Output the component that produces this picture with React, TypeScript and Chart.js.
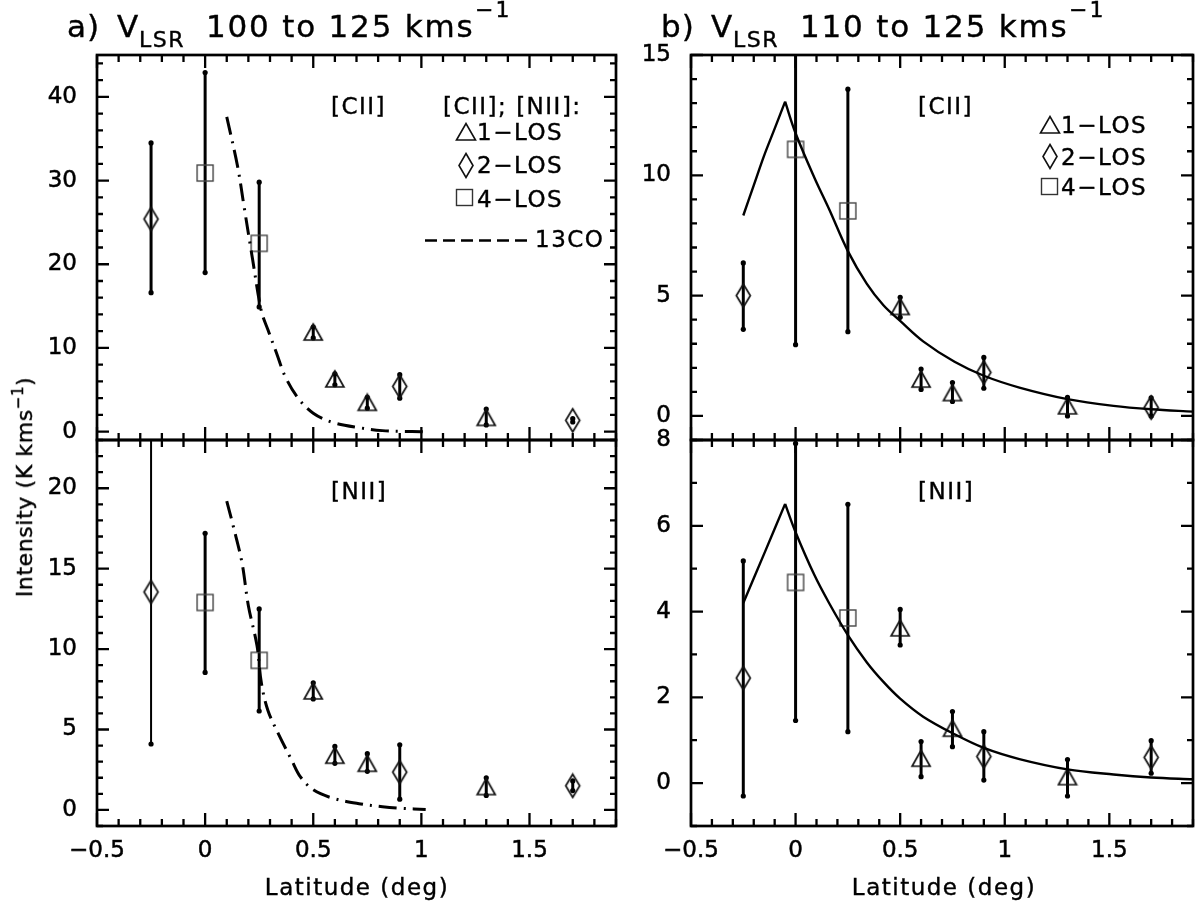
import React, { useEffect, useRef } from "react";
import { Chart, registerables } from "chart.js";

Chart.register(...registerables);

const FONT = "'DejaVu Sans', 'Noto Sans', sans-serif";
Chart.defaults.font.family = FONT;

// ---------------- shared latitude data ----------------
const latTriangle = [0.5, 0.6, 0.75, 1.3]; // 1-LOS
const latDiamond = [-0.25, 0.9, 1.7]; // 2-LOS
const latSquare = [0, 0.25]; // 4-LOS

const xMin = -0.5;
const xMax = 1.9;
const xTicks = [-0.5, 0, 0.5, 1, 1.5];
const xTickLabels = ["\u22120.5", "0", "0.5", "1", "1.5"];

// ---------------- a) [CII] ----------------
const aCiiTri = [11.9, 6.3, 3.5, 1.7];
const aCiiTriLo = [11.2, 5.6, 2.8, 0.8];
const aCiiTriHi = [12.5, 6.9, 4.1, 2.7];
const aCiiDia = [25.4, 5.4, 1.35];
const aCiiDiaLo = [16.6, 4.0, 1.15];
const aCiiDiaHi = [34.5, 6.8, 1.55];
const aCiiSq = [30.9, 22.5];
const aCiiSqLo = [19.0, 14.9];
const aCiiSqHi = [42.9, 29.8];
const aCiiCoLat = [0.1, 0.15, 0.18, 0.22, 0.26, 0.29, 0.33, 0.37, 0.43, 0.5, 0.59, 0.72, 0.82, 0.91, 1.0, 1.02];
const aCiiCo = [37.6, 31.7, 26.9, 20.5, 14.4, 12.2, 9.4, 6.6, 4.0, 2.2, 1.1, 0.44, 0.12, 0.02, 0.0, -0.05];
const aCiiYTicks = [0, 10, 20, 30, 40];
const aCiiYLabels = ["0", "10", "20", "30", "40"];

// ---------------- a) [NII] ----------------
const aNiiTri = [7.4, 3.4, 2.9, 1.45];
const aNiiTriLo = [6.9, 2.9, 2.4, 0.9];
const aNiiTriHi = [7.9, 3.95, 3.5, 2.0];
const aNiiDia = [13.55, 2.35, 1.5];
const aNiiDiaLo = [4.1, 0.67, 1.2];
const aNiiDiaHi = [23.1, 4.05, 1.8];
const aNiiSq = [12.9, 9.3];
const aNiiSqLo = [8.55, 6.15];
const aNiiSqHi = [17.2, 12.5];
const aNiiCoLat = [0.1, 0.13, 0.17, 0.2, 0.24, 0.26, 0.29, 0.34, 0.4, 0.44, 0.5, 0.59, 0.72, 0.82, 0.91, 1.02];
const aNiiCo = [19.2, 17.65, 15.4, 12.7, 10.2, 7.9, 6.2, 4.7, 3.1, 2.07, 1.25, 0.73, 0.37, 0.2, 0.1, 0.03];
const aNiiYTicks = [0, 5, 10, 15, 20];
const aNiiYLabels = ["0", "5", "10", "15", "20"];

// ---------------- b) [CII] ----------------
const bCiiTri = [4.55, 1.53, 0.97, 0.42];
const bCiiTriLo = [4.1, 1.1, 0.6, 0.0];
const bCiiTriHi = [4.93, 1.95, 1.39, 0.77];
const bCiiDia = [5.0, 1.81, 0.35];
const bCiiDiaLo = [3.6, 1.15, 0.0];
const bCiiDiaHi = [6.36, 2.43, 0.75];
const bCiiSq = [11.08, 8.52];
const bCiiSqLo = [2.96, 3.5];
const bCiiSqHi = [19.2, 13.58];
const bCiiRiseLat = [-0.25, -0.2, -0.15, -0.1, -0.05];
const bCiiRise = [8.33, 9.58, 10.83, 11.94, 13.06];
const bCiiFallLat = [-0.05, 0, 0.09, 0.16, 0.25, 0.34, 0.42, 0.5, 0.61, 0.76, 0.9, 1.07, 1.3, 1.52, 1.7, 1.9];
const bCiiFall = [13.06, 11.75, 9.9, 8.6, 6.85, 5.5, 4.6, 3.95, 3.1, 2.25, 1.67, 1.18, 0.7, 0.42, 0.28, 0.18];
const bCiiYTicks = [0, 5, 10, 15];
const bCiiYLabels = ["0", "5", "10", "15"];

// ---------------- b) [NII] ----------------
const bNiiTri = [3.62, 0.58, 1.28, 0.15];
const bNiiTriLo = [3.22, 0.15, 0.85, -0.3];
const bNiiTriHi = [4.05, 0.97, 1.67, 0.55];
const bNiiDia = [2.45, 0.62, 0.6];
const bNiiDiaLo = [-0.3, 0.07, 0.23];
const bNiiDiaHi = [5.18, 1.2, 0.99];
const bNiiSq = [4.68, 3.85];
const bNiiSqLo = [1.46, 1.2];
const bNiiSqHi = [7.92, 6.5];
const bNiiRiseLat = [-0.25, -0.15, -0.05];
const bNiiRise = [4.2, 5.35, 6.51];
const bNiiFallLat = [-0.05, 0, 0.09, 0.16, 0.25, 0.34, 0.42, 0.5, 0.61, 0.76, 0.9, 1.07, 1.3, 1.52, 1.7, 1.9];
const bNiiFall = [6.51, 5.85, 4.85, 4.2, 3.45, 2.82, 2.36, 1.97, 1.55, 1.14, 0.82, 0.56, 0.32, 0.2, 0.13, 0.09];
const bNiiYTicks = [0, 2, 4, 6, 8];
const bNiiYLabels = ["0", "2", "4", "6", "8"];

// ---------------- markers ----------------
function makeMarker(kind: "tri" | "dia" | "sq"): HTMLCanvasElement {
  const c = document.createElement("canvas");
  if (kind === "tri") {
    c.width = 22;
    c.height = 20;
  } else if (kind === "dia") {
    c.width = 19;
    c.height = 27;
  } else {
    c.width = 20;
    c.height = 20;
  }
  const g = c.getContext("2d")!;
  g.lineJoin = "miter";
  g.lineWidth = 1.7;
  g.strokeStyle = "#111";
  if (kind === "tri") {
    g.beginPath();
    g.moveTo(2, 18);
    g.lineTo(11, 2);
    g.lineTo(20, 18);
    g.closePath();
    g.stroke();
  } else if (kind === "dia") {
    g.beginPath();
    g.moveTo(9.5, 2);
    g.lineTo(16.5, 13.5);
    g.lineTo(9.5, 25);
    g.lineTo(2.5, 13.5);
    g.closePath();
    g.stroke();
  } else {
    g.lineWidth = 1.4;
    g.strokeStyle = "#444";
    g.strokeRect(2, 2, 16, 16);
  }
  return c;
}

// ---------------- plugins ----------------
const errorBarPlugin = {
  id: "errorBars",
  beforeDatasetsDraw(chart: any) {
    const { ctx, chartArea } = chart;
    const xs = chart.scales.x;
    const ys = chart.scales.y;
    ctx.save();
    ctx.beginPath();
    ctx.rect(chartArea.left, chartArea.top, chartArea.right - chartArea.left, chartArea.bottom - chartArea.top);
    ctx.clip();
    ctx.strokeStyle = "#000";
    ctx.fillStyle = "#000";
    chart.data.datasets.forEach((ds: any) => {
      if (!ds.errLo) return;
      ds.data.forEach((pt: any, i: number) => {
        const px = xs.getPixelForValue(pt.x);
        const p1 = ys.getPixelForValue(ds.errLo[i]);
        const p2 = ys.getPixelForValue(ds.errHi[i]);
        ctx.lineWidth = ds.thinBar === i ? 2 : 3;
        ctx.beginPath();
        ctx.moveTo(px, p1);
        ctx.lineTo(px, p2);
        ctx.stroke();
        [p1, p2].forEach((q) => {
          ctx.beginPath();
          ctx.arc(px, q, 2.6, 0, Math.PI * 2);
          ctx.fill();
        });
      });
    });
    ctx.restore();
  },
};

const frameTicksPlugin = {
  id: "frameTicks",
  afterDatasetsDraw(chart: any, _args: any, opts: any) {
    const { ctx, chartArea } = chart;
    const { left, right, top, bottom } = chartArea;
    const xs = chart.scales.x;
    const ys = chart.scales.y;
    const each = (min: number, max: number, step: number, major: number, fn: (v: number, maj: boolean) => void) => {
      const start = Math.ceil(min / step - 1e-6);
      const end = Math.floor(max / step + 1e-6);
      for (let k = start; k <= end; k++) {
        const v = k * step;
        const r = v / major;
        fn(v, Math.abs(r - Math.round(r)) < 1e-6);
      }
    };
    ctx.save();
    ctx.strokeStyle = "#000";
    ctx.lineWidth = 2.3;
    ctx.beginPath();
    each(xs.min, xs.max, opts.xMinor, opts.xMajor, (v, maj) => {
      const p = xs.getPixelForValue(v);
      const L = maj ? 13 : 7;
      ctx.moveTo(p, bottom);
      ctx.lineTo(p, bottom - L);
      ctx.moveTo(p, top);
      ctx.lineTo(p, top + L);
    });
    each(ys.min, ys.max, opts.yMinor, opts.yMajor, (v, maj) => {
      const p = ys.getPixelForValue(v);
      const L = maj ? 12 : 6;
      ctx.moveTo(left, p);
      ctx.lineTo(left + L, p);
      ctx.moveTo(right, p);
      ctx.lineTo(right - L, p);
    });
    ctx.stroke();
    ctx.lineWidth = 2.7;
    ctx.strokeRect(left, top, right - left, bottom - top);
    ctx.restore();
  },
};

// ---------------- panel spec ----------------
type Series = { y: number[]; lo: number[]; hi: number[] };
type Curve = { x: number[]; y: number[] };
type PanelSpec = {
  left: number;
  top: number;
  w: number;
  h: number;
  pad: { left: number; top: number; right: number; bottom: number };
  yAxisWidth: number;
  showX: boolean;
  yMin: number;
  yMax: number;
  yTicks: number[];
  yLabels: string[];
  yMajor: number;
  yMinor: number;
  tri: Series;
  dia: Series;
  sq: Series;
  curves: Curve[];
  dashed: boolean;
  thinDiamondBar: number;
};

const panels: PanelSpec[] = [
  {
    left: 0, top: 25, w: 640, h: 440,
    pad: { left: 0, top: 30, right: 24, bottom: 25 },
    yAxisWidth: 97, showX: false,
    yMin: -1, yMax: 45, yTicks: aCiiYTicks, yLabels: aCiiYLabels, yMajor: 10, yMinor: 2,
    tri: { y: aCiiTri, lo: aCiiTriLo, hi: aCiiTriHi },
    dia: { y: aCiiDia, lo: aCiiDiaLo, hi: aCiiDiaHi },
    sq: { y: aCiiSq, lo: aCiiSqLo, hi: aCiiSqHi },
    curves: [{ x: aCiiCoLat, y: aCiiCo }], dashed: true, thinDiamondBar: -1,
  },
  {
    left: 0, top: 415, w: 640, h: 488,
    pad: { left: 0, top: 25, right: 24, bottom: 0 },
    yAxisWidth: 97, showX: true,
    yMin: -1, yMax: 23, yTicks: aNiiYTicks, yLabels: aNiiYLabels, yMajor: 5, yMinor: 1,
    tri: { y: aNiiTri, lo: aNiiTriLo, hi: aNiiTriHi },
    dia: { y: aNiiDia, lo: aNiiDiaLo, hi: aNiiDiaHi },
    sq: { y: aNiiSq, lo: aNiiSqLo, hi: aNiiSqHi },
    curves: [{ x: aNiiCoLat, y: aNiiCo }], dashed: true, thinDiamondBar: 0,
  },
  {
    left: 600, top: 25, w: 600, h: 440,
    pad: { left: 0, top: 30, right: 3, bottom: 25 },
    yAxisWidth: 91, showX: false,
    yMin: -1, yMax: 15, yTicks: bCiiYTicks, yLabels: bCiiYLabels, yMajor: 5, yMinor: 1,
    tri: { y: bCiiTri, lo: bCiiTriLo, hi: bCiiTriHi },
    dia: { y: bCiiDia, lo: bCiiDiaLo, hi: bCiiDiaHi },
    sq: { y: bCiiSq, lo: bCiiSqLo, hi: bCiiSqHi },
    curves: [
      { x: bCiiRiseLat, y: bCiiRise },
      { x: bCiiFallLat, y: bCiiFall },
    ],
    dashed: false, thinDiamondBar: -1,
  },
  {
    left: 600, top: 415, w: 600, h: 488,
    pad: { left: 0, top: 25, right: 3, bottom: 0 },
    yAxisWidth: 91, showX: true,
    yMin: -1, yMax: 8, yTicks: bNiiYTicks, yLabels: bNiiYLabels, yMajor: 2, yMinor: 1,
    tri: { y: bNiiTri, lo: bNiiTriLo, hi: bNiiTriHi },
    dia: { y: bNiiDia, lo: bNiiDiaLo, hi: bNiiDiaHi },
    sq: { y: bNiiSq, lo: bNiiSqLo, hi: bNiiSqHi },
    curves: [
      { x: bNiiRiseLat, y: bNiiRise },
      { x: bNiiFallLat, y: bNiiFall },
    ],
    dashed: false, thinDiamondBar: -1,
  },
];

function Panel({ spec }: { spec: PanelSpec }) {
  const ref = useRef<HTMLCanvasElement>(null);
  useEffect(() => {
    if (!ref.current) return;
    const triImg = makeMarker("tri");
    const diaImg = makeMarker("dia");
    const sqImg = makeMarker("sq");
    const pts = (xs: number[], ys: number[]) => xs.map((x, i) => ({ x, y: ys[i] }));
    const curveSets = spec.curves.map(
      (c, k) =>
        ({
          label: spec.dashed ? "13CO" : "fit " + k,
          data: pts(c.x, c.y),
          showLine: true,
          pointRadius: 0,
          borderColor: "#000",
          borderWidth: spec.dashed ? 3 : 2.4,
          borderDash: spec.dashed ? [18, 7, 2, 7] : [],
          tension: 0.35,
          fill: false,
        } as any)
    );
    const chart = new Chart(ref.current, {
      type: "scatter",
      data: {
        datasets: [
          ...curveSets,
          {
            label: "1-LOS",
            data: pts(latTriangle, spec.tri.y),
            pointStyle: triImg,
            pointRadius: 6,
            errLo: spec.tri.lo,
            errHi: spec.tri.hi,
          } as any,
          {
            label: "2-LOS",
            data: pts(latDiamond, spec.dia.y),
            pointStyle: diaImg,
            pointRadius: 6,
            errLo: spec.dia.lo,
            errHi: spec.dia.hi,
            thinBar: spec.thinDiamondBar,
          } as any,
          {
            label: "4-LOS",
            data: pts(latSquare, spec.sq.y),
            pointStyle: sqImg,
            pointRadius: 6,
            errLo: spec.sq.lo,
            errHi: spec.sq.hi,
          } as any,
        ],
      },
      options: {
        responsive: false,
        animation: false,
        events: [],
        layout: { padding: spec.pad },
        plugins: {
          legend: { display: false },
          tooltip: { enabled: false },
          frameTicks: { xMajor: 0.5, xMinor: 0.1, yMajor: spec.yMajor, yMinor: spec.yMinor },
        } as any,
        scales: {
          x: {
            type: "linear",
            min: xMin,
            max: xMax,
            display: spec.showX,
            afterBuildTicks: (s: any) => {
              s.ticks = xTicks.map((v) => ({ value: v }));
            },
            afterFit: (s: any) => {
              s.height = spec.showX ? 77 : 0;
              s.paddingLeft = 0;
              s.paddingRight = 0;
            },
            grid: { display: false, drawTicks: false },
            border: { display: false },
            ticks: {
              color: "#000",
              font: { family: FONT, size: 23 },
              padding: 11,
              maxRotation: 0,
              autoSkip: false,
              textStrokeColor: "#000",
              textStrokeWidth: 0.5,
              callback: (_v: any, i: number) => xTickLabels[i],
            },
          },
          y: {
            type: "linear",
            min: spec.yMin,
            max: spec.yMax,
            afterBuildTicks: (s: any) => {
              s.ticks = spec.yTicks.map((v) => ({ value: v }));
            },
            afterFit: (s: any) => {
              s.width = spec.yAxisWidth;
              s.paddingTop = 0;
              s.paddingBottom = 0;
            },
            grid: { display: false, drawTicks: false },
            border: { display: false },
            ticks: {
              color: "#000",
              font: { family: FONT, size: 23 },
              padding: 20,
              autoSkip: false,
              textStrokeColor: "#000",
              textStrokeWidth: 0.5,
              callback: (_v: any, i: number) => spec.yLabels[i],
            },
          },
        },
      } as any,
      plugins: [errorBarPlugin, frameTicksPlugin],
    });
    return () => chart.destroy();
  }, [spec]);
  return (
    <canvas
      ref={ref}
      width={spec.w}
      height={spec.h}
      style={{ position: "absolute", left: spec.left, top: spec.top, width: spec.w, height: spec.h }}
    />
  );
}

// ---------------- text helpers ----------------
function Txt({
  x,
  base,
  size = 23,
  ls = 1.5,
  center = false,
  children,
}: {
  x: number;
  base: number;
  size?: number;
  ls?: number;
  center?: boolean;
  children: React.ReactNode;
}) {
  return (
    <div
      style={{
        position: "absolute",
        left: x,
        top: base - 0.846 * size,
        fontSize: size,
        lineHeight: `${size}px`,
        letterSpacing: ls,
        whiteSpace: "nowrap",
        fontFamily: FONT,
        color: "#000",
        WebkitTextStroke: "0.4px #000",
        transform: center ? "translateX(-50%)" : undefined,
      }}
    >
      {children}
    </div>
  );
}

function Title({ x, letter, range }: { x: number; letter: string; range: string }) {
  return (
    <>
      <Txt x={x} base={37} size={31} ls={1}>{letter}</Txt>
      <Txt x={x + 50} base={37} size={31} ls={0}>V</Txt>
      <Txt x={x + 72} base={48} size={22} ls={1.5}>LSR</Txt>
      <Txt x={x + 139} base={37} size={31} ls={1.8}>{range}</Txt>
      <Txt x={x + 408} base={18} size={22} ls={2}>{"\u22121"}</Txt>
    </>
  );
}

function TriIcon({ x, y }: { x: number; y: number }) {
  return (
    <svg style={{ position: "absolute", left: x, top: y }} width={22} height={20}>
      <polygon points="1.5,18 11,1.5 20.5,18" fill="none" stroke="#111" strokeWidth={1.6} />
    </svg>
  );
}
function DiaIcon({ x, y }: { x: number; y: number }) {
  return (
    <svg style={{ position: "absolute", left: x, top: y }} width={18} height={27}>
      <polygon points="9,1.5 16,13.5 9,25.5 2,13.5" fill="none" stroke="#111" strokeWidth={1.6} />
    </svg>
  );
}
function SqIcon({ x, y }: { x: number; y: number }) {
  return (
    <svg style={{ position: "absolute", left: x, top: y }} width={19} height={19}>
      <rect x={1.5} y={1.5} width={16} height={16} fill="none" stroke="#333" strokeWidth={1.4} />
    </svg>
  );
}

export default function App() {
  return (
    <div
      style={{
        position: "absolute",
        left: 0,
        top: 0,
        width: 1200,
        height: 903,
        background: "#fff",
        overflow: "hidden",
        fontFamily: FONT,
      }}
    >
      {panels.map((p, i) => (
        <Panel key={i} spec={p} />
      ))}

      {/* titles */}
      <Title x={67} letter="a)" range="100 to 125 kms" />
      <Title x={661} letter="b)" range="110 to 125 kms" />

      {/* panel labels */}
      <Txt x={331} base={114}>[CII]</Txt>
      <Txt x={331} base={499}>[NII]</Txt>
      <Txt x={918} base={114}>[CII]</Txt>
      <Txt x={918} base={499}>[NII]</Txt>

      {/* legend a */}
      <Txt x={443} base={114}>[CII]; [NII]:</Txt>
      <TriIcon x={455} y={122} />
      <Txt x={477} base={140}>{"1\u2212LOS"}</Txt>
      <DiaIcon x={457} y={152} />
      <Txt x={477} base={173}>{"2\u2212LOS"}</Txt>
      <SqIcon x={455} y={188} />
      <Txt x={477} base={207}>{"4\u2212LOS"}</Txt>
      <svg style={{ position: "absolute", left: 425, top: 238 }} width={110} height={5}>
        <line x1={0} y1={2.5} x2={108} y2={2.5} stroke="#000" strokeWidth={2.6} strokeDasharray="12 6" />
      </svg>
      <Txt x={535} base={247}>13CO</Txt>

      {/* legend b */}
      <TriIcon x={1039} y={115} />
      <Txt x={1061} base={133}>{"1\u2212LOS"}</Txt>
      <DiaIcon x={1041} y={143} />
      <Txt x={1061} base={165}>{"2\u2212LOS"}</Txt>
      <SqIcon x={1040} y={177} />
      <Txt x={1061} base={195}>{"4\u2212LOS"}</Txt>

      {/* x axis titles */}
      <Txt x={357} base={895} center ls={1.5}>Latitude (deg)</Txt>
      <Txt x={944} base={895} center ls={1.5}>Latitude (deg)</Txt>

      {/* y axis title */}
      <div
        style={{
          position: "absolute",
          left: 25,
          top: 487,
          transform: "translate(-50%, -50%) rotate(-90deg)",
          fontSize: 22,
          lineHeight: "22px",
          letterSpacing: 0.6,
          whiteSpace: "nowrap",
          fontFamily: FONT,
          color: "#000",
          WebkitTextStroke: "0.4px #000",
        }}
      >
        Intensity (K kms
        <span style={{ position: "relative", top: -9, fontSize: 15, lineHeight: "15px" }}>{"\u22121"}</span>)
      </div>
    </div>
  );
}
